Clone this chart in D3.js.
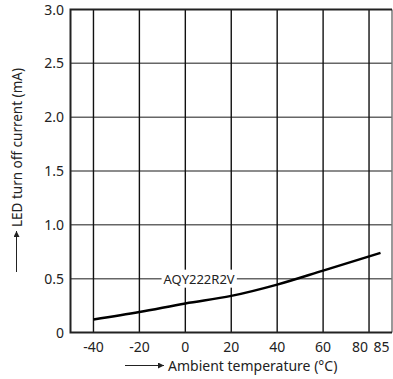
<!DOCTYPE html>
<html>
<head>
<meta charset="utf-8">
<script src="https://cdn.jsdelivr.net/npm/d3@7"></script>
<style>
  body { margin: 0; background: #fff; }
  svg text { font-family: "Noto Sans", sans-serif; fill: #222; }
</style>
</head>
<body>
<svg id="chart" width="393" height="379"></svg>
<script>
// values
var temps = [-40, -20, 0, 20, 40, 60, 85];
var current = [0.12, 0.19, 0.27, 0.34, 0.445, 0.575, 0.74];
var xTicks = [-40, -20, 0, 20, 40, 60, 80, 85];
var xGrid = [-40, -20, 0, 20, 40, 60, 80];
var yTicks = [0, 0.5, 1.0, 1.5, 2.0, 2.5, 3.0];
var seriesName = "AQY222R2V";
var labelAt = [6, 0.5];

function draw() {
    var svg = d3.select("#chart");
    var pLeft = 70.5, pRight = 392, pTop = 9.5, pBottom = 332.5;

    var x = d3.scaleLinear().domain([-50, 90]).range([pLeft, pRight]);
    var y = d3.scaleLinear().domain([0, 3]).range([pBottom, pTop]);

    // horizontal grid
    svg.append("g").selectAll("line")
        .data(yTicks.slice(1, -1))
        .enter().append("line")
        .attr("x1", pLeft).attr("x2", pRight)
        .attr("y1", d => y(d)).attr("y2", d => y(d))
        .attr("stroke", "#666").attr("stroke-width", 1.5);

    // vertical grid
    svg.append("g").selectAll("line")
        .data(xGrid)
        .enter().append("line")
        .attr("x1", d => x(d)).attr("x2", d => x(d))
        .attr("y1", pTop).attr("y2", pBottom)
        .attr("stroke", "#111").attr("stroke-width", 1.4);

    // frame
    svg.append("line").attr("x1", pRight).attr("x2", pRight).attr("y1", pTop).attr("y2", pBottom)
        .attr("stroke", "#777").attr("stroke-width", 1.5);
    svg.append("path")
        .attr("d", "M" + pRight + "," + pTop + "H" + pLeft + "V" + pBottom + "H" + pRight)
        .attr("fill", "none").attr("stroke", "#222").attr("stroke-width", 2);

    // tick labels
    svg.append("g").selectAll("text")
        .data(xTicks)
        .enter().append("text")
        .attr("x", d => x(d) + (d === 80 ? -9 : d === 85 ? 1 : 0))
        .attr("y", 351.5)
        .attr("text-anchor", "middle")
        .style("font-size", "14px")
        .text(d => d);

    svg.append("g").selectAll("text")
        .data(yTicks)
        .enter().append("text")
        .attr("x", 64)
        .attr("y", d => y(d) + 5)
        .attr("text-anchor", "end")
        .style("font-size", "14px")
        .text(d => d === 0 ? "0" : d3.format(".1f")(d));

    // series label with white box over the gridline
    var lab = svg.append("g");
    var lt = lab.append("text")
        .attr("x", x(labelAt[0])).attr("y", y(labelAt[1]) + 5)
        .attr("text-anchor", "middle")
        .style("font-size", "13px")
        .text(seriesName);
    var bb = lt.node().getBBox();
    lab.insert("rect", "text")
        .attr("x", bb.x - 2).attr("y", bb.y).attr("width", bb.width + 4).attr("height", bb.height)
        .attr("fill", "#fff");

    // curve
    var line = d3.line()
        .x((d, i) => x(temps[i]))
        .y(d => y(d))
        .curve(d3.curveMonotoneX);
    svg.append("path")
        .datum(current)
        .attr("d", line)
        .attr("fill", "none").attr("stroke", "#000").attr("stroke-width", 2.5);

    // arrows
    var defs = svg.append("defs");
    defs.append("marker").attr("id", "arr")
        .attr("viewBox", "0 0 10 10").attr("refX", 10).attr("refY", 5)
        .attr("markerWidth", 8).attr("markerHeight", 6).attr("markerUnits", "userSpaceOnUse")
        .attr("orient", "auto")
        .append("path").attr("d", "M0,0L10,5L0,10Z").attr("fill", "#222");

    svg.append("line").attr("x1", 125).attr("x2", 164).attr("y1", 365.5).attr("y2", 365.5)
        .attr("stroke", "#222").attr("stroke-width", 1).attr("marker-end", "url(#arr)");
    svg.append("text").attr("x", 168).attr("y", 370.5)
        .style("font-size", "14px")
        .text("Ambient temperature (°C)");

    svg.append("line").attr("x1", 16.5).attr("x2", 16.5).attr("y1", 272).attr("y2", 231)
        .attr("stroke", "#222").attr("stroke-width", 1).attr("marker-end", "url(#arr)");
    svg.append("text")
        .attr("transform", "translate(22,227) rotate(-90)")
        .style("font-size", "13.5px")
        .text("LED turn off current (mA)");
}
draw();
</script>
</body>
</html>
